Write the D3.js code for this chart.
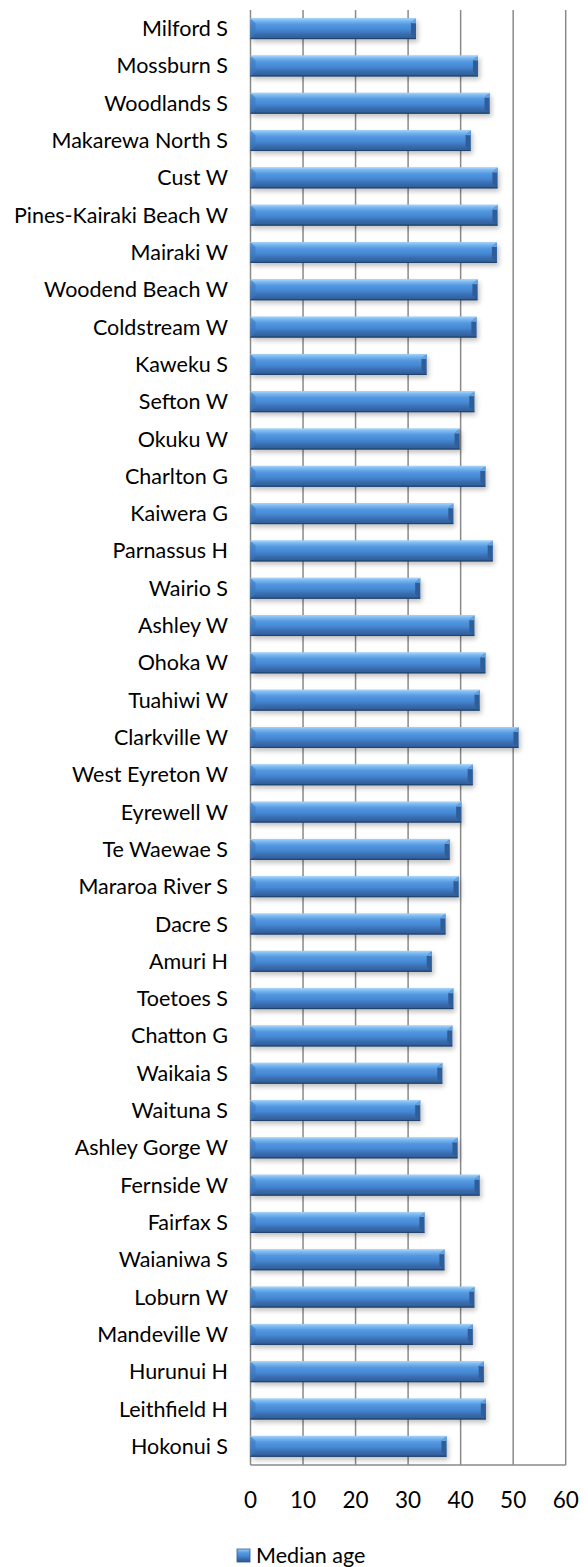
<!DOCTYPE html>
<html>
<head>
<meta charset="utf-8">
<script src="https://cdn.jsdelivr.net/npm/d3@7"></script>
<style>
  body { margin: 0; background: #fff; }
  svg { display: block; font-family: Lato, "Open Sans", sans-serif; }
</style>
</head>
<body>
<div id="chart"></div>
<script>
// categories, top to bottom
var areas = ["Milford S", "Mossburn S", "Woodlands S", "Makarewa North S", "Cust W",
    "Pines-Kairaki Beach W", "Mairaki W", "Woodend Beach W", "Coldstream W", "Kaweku S",
    "Sefton W", "Okuku W", "Charlton G", "Kaiwera G", "Parnassus H", "Wairio S",
    "Ashley W", "Ohoka W", "Tuahiwi W", "Clarkville W", "West Eyreton W", "Eyrewell W",
    "Te Waewae S", "Mararoa River S", "Dacre S", "Amuri H", "Toetoes S", "Chatton G",
    "Waikaia S", "Waituna S", "Ashley Gorge W", "Fernside W", "Fairfax S", "Waianiwa S",
    "Loburn W", "Mandeville W", "Hurunui H", "Leithfield H", "Hokonui S"];

// median age, same order
var medianAge = [31.5, 43.3, 45.5, 41.9, 47.0,
    47.0, 46.9, 43.2, 43.0, 33.5,
    42.6, 39.8, 44.7, 38.6, 46.1, 32.3,
    42.6, 44.7, 43.6, 51.0, 42.3, 40.1,
    37.9, 39.6, 37.1, 34.5, 38.6, 38.4,
    36.5, 32.3, 39.4, 43.6, 33.1, 36.9,
    42.6, 42.3, 44.4, 44.8, 37.3];

var xTicks = [0, 10, 20, 30, 40, 50, 60];
var seriesName = "Median age";

var width = 588, height = 1567;
var plotLeft = 250.5, plotRight = 565.7, plotTop = 10, plotBottom = 1465;

var data = areas.map(function(a, i) { return {area: a, value: medianAge[i]}; });

var svg = d3.select("#chart").append("svg")
    .attr("width", width)
    .attr("height", height);

var defs = svg.append("defs");

// vertical gradient for the bar body
var grad = defs.append("linearGradient")
    .attr("id", "barGrad")
    .attr("x1", 0).attr("y1", 0).attr("x2", 0).attr("y2", 1);
[["0", "#a6d4fb"], ["0.1", "#80bcf2"], ["0.3", "#5398e0"], ["0.55", "#4587d3"],
 ["0.75", "#3a6eb1"], ["0.92", "#31609c"], ["1", "#264a75"]].forEach(function(s) {
    grad.append("stop").attr("offset", s[0]).attr("stop-color", s[1]);
});

var shadow = defs.append("filter")
    .attr("id", "shadow")
    .attr("x", "-10%").attr("y", "-50%").attr("width", "130%").attr("height", "250%");
shadow.append("feGaussianBlur").attr("stdDeviation", 2.5);

var x = d3.scaleLinear()
    .domain([0, 60])
    .range([plotLeft, plotRight]);

var y = d3.scaleBand()
    .domain(areas)
    .range([plotTop, plotBottom])
    .paddingInner(0.44)
    .paddingOuter(0.22);

// gridlines
svg.append("g")
    .selectAll("line")
    .data(xTicks.slice(1))
    .enter()
    .append("line")
    .attr("x1", function(d) { return x(d); })
    .attr("x2", function(d) { return x(d); })
    .attr("y1", plotTop)
    .attr("y2", plotBottom)
    .attr("stroke", "#8a8a8a")
    .attr("stroke-width", 1.5);

// bottom border and left axis line
svg.append("line")
    .attr("x1", x(0)).attr("x2", x(60))
    .attr("y1", plotBottom).attr("y2", plotBottom)
    .attr("stroke", "#8a8a8a").attr("stroke-width", 1.5);
svg.append("line")
    .attr("x1", x(0)).attr("x2", x(0))
    .attr("y1", plotTop).attr("y2", plotBottom)
    .attr("stroke", "#8a8a8a").attr("stroke-width", 1.5);

var bh = y.bandwidth();
var bev = 5;

var bars = svg.append("g")
    .selectAll("g")
    .data(data)
    .enter()
    .append("g")
    .attr("transform", function(d) { return "translate(0," + y(d.area) + ")"; });

// soft shadow under each bar
bars.append("rect")
    .attr("x", x(0) + 2)
    .attr("y", 3)
    .attr("width", function(d) { return x(d.value) - x(0); })
    .attr("height", bh)
    .attr("fill", "#000")
    .attr("opacity", 0.25)
    .attr("filter", "url(#shadow)");

// bar body
bars.append("rect")
    .attr("x", x(0))
    .attr("y", 0)
    .attr("width", function(d) { return x(d.value) - x(0); })
    .attr("height", bh)
    .attr("fill", "url(#barGrad)");

// left bevel facet
bars.append("path")
    .attr("d", function(d) {
        var x0 = x(0);
        return "M" + x0 + ",0L" + (x0 + bev) + "," + bev + "L" + (x0 + bev) + "," + (bh - bev) + "L" + x0 + "," + bh + "Z";
    })
    .attr("fill", "#3a78c2")
    .attr("opacity", 0.6);

// right bevel facet
bars.append("path")
    .attr("d", function(d) {
        var x1 = x(d.value);
        return "M" + x1 + ",0L" + (x1 - bev) + "," + bev + "L" + (x1 - bev) + "," + (bh - bev) + "L" + x1 + "," + bh + "Z";
    })
    .attr("fill", "#2f5d98");
bars.append("path")
    .attr("d", function(d) {
        var x1 = x(d.value);
        return "M" + x1 + ",0L" + (x1 - bev) + "," + bev + "L" + x1 + "," + bev + "Z";
    })
    .attr("fill", "#64a2e2");

// top highlight and bottom edge
bars.append("line")
    .attr("x1", x(0)).attr("x2", function(d) { return x(d.value); })
    .attr("y1", 0.5).attr("y2", 0.5)
    .attr("stroke", "#9fccf5").attr("stroke-width", 1);
bars.append("line")
    .attr("x1", x(0)).attr("x2", function(d) { return x(d.value); })
    .attr("y1", bh - 0.5).attr("y2", bh - 0.5)
    .attr("stroke", "#22446c").attr("stroke-width", 1);

// category labels
svg.append("g")
    .selectAll("text")
    .data(areas)
    .enter()
    .append("text")
    .attr("x", 228)
    .attr("y", function(d) { return y(d) + bh / 2; })
    .attr("dy", "0.35em")
    .attr("text-anchor", "end")
    .style("font-size", "21.5px")
    .attr("fill", "#000")
    .text(function(d) { return d; });

// x tick labels
svg.append("g")
    .selectAll("text")
    .data(xTicks)
    .enter()
    .append("text")
    .attr("x", function(d) { return x(d); })
    .attr("y", 1500)
    .attr("dy", "0.35em")
    .attr("text-anchor", "middle")
    .style("font-size", "22.5px")
    .attr("fill", "#000")
    .text(function(d) { return d; });

// legend
var legend = svg.append("g").attr("transform", "translate(237,1549)");
legend.append("rect")
    .attr("width", 13).attr("height", 13)
    .attr("fill", "url(#barGrad)")
    .attr("stroke", "#2d5a94").attr("stroke-width", 0.8);
legend.append("text")
    .attr("x", 19)
    .attr("y", 6.5)
    .attr("dy", "0.35em")
    .style("font-size", "21.5px")
    .attr("fill", "#000")
    .text(seriesName);
</script>
</body>
</html>
